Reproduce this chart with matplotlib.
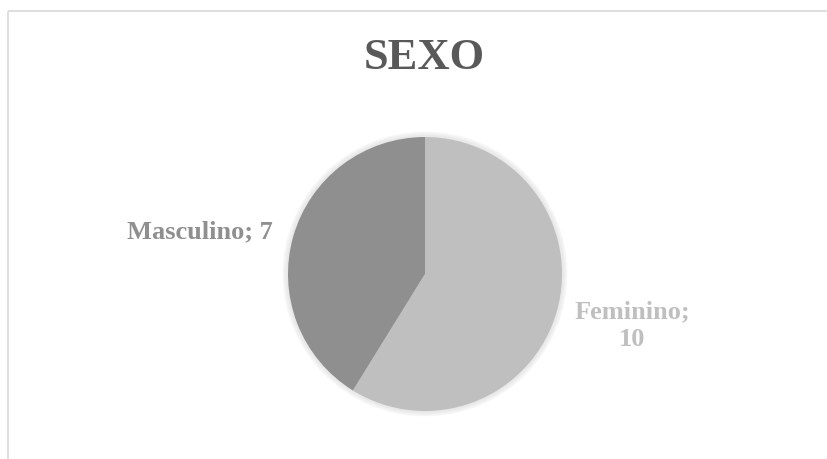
import matplotlib.pyplot as plt
from matplotlib.patches import Circle

labels = ["Feminino", "Masculino"]
values = [10, 7]
slice_colors = ["#bfbfbf", "#8f8f8f"]
label_colors = ["#bfbfbf", "#8f8f8f"]

W, H = 828, 459
fig = plt.figure(figsize=(W / 100, H / 100), dpi=100)
ax = fig.add_axes([0, 0, 1, 1])

cx, cy, r = 425, H - 274, 137

# soft shadow around the pie
for k in range(1, 6):
    ax.add_patch(Circle((cx, cy), r + k, color="#000000", alpha=0.015, zorder=1))

ax.pie(values, colors=slice_colors, startangle=90, counterclock=False,
       center=(cx, cy), radius=r, frame=True,
       wedgeprops=dict(linewidth=0, zorder=2))

# chart frame: only the top and left edges show in the picture
ax.plot([8, W + 20], [H - 11, H - 11], color="#d9d9d9", lw=1.2,
        solid_capstyle="butt")
ax.plot([8, 8], [-20, H - 11], color="#d9d9d9", lw=1.2, solid_capstyle="butt")

ax.set_xlim(0, W)
ax.set_ylim(0, H)
ax.set_aspect("equal")
ax.axis("off")

font = ["Liberation Serif", "DejaVu Serif"]
ax.text(W / 2 + 10, H - 58, "SEXO", ha="center", va="center", fontsize=32,
        fontweight="bold", color="#595959", family=font)

ax.text(632, H - 326, f"{labels[0]};\n{values[0]}", ha="center", va="center",
        fontsize=19, fontweight="bold", color=label_colors[0], family=font,
        linespacing=1.25)
ax.text(200, H - 232, f"{labels[1]}; {values[1]}", ha="center", va="center",
        fontsize=19, fontweight="bold", color=label_colors[1], family=font)

fig.savefig("out.png", dpi=100)
